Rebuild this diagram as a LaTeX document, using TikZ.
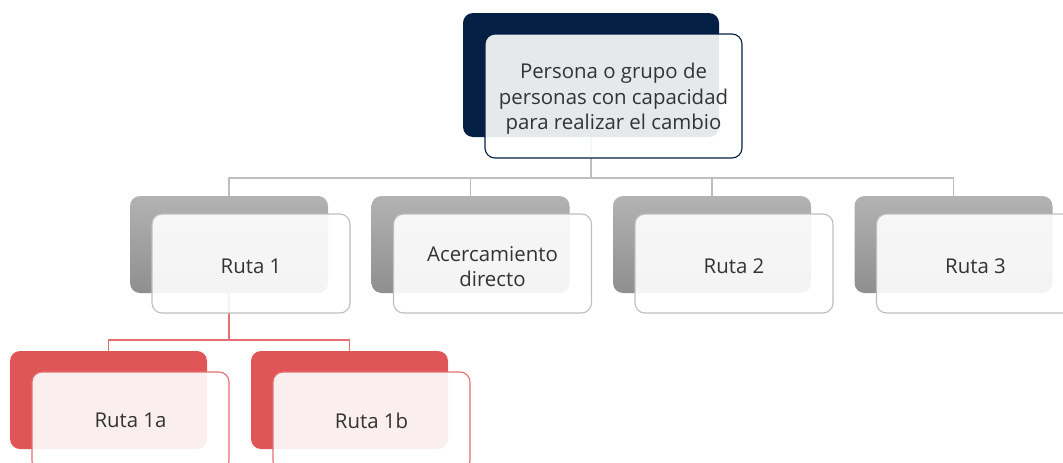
\documentclass[tikz,border=0pt]{standalone}
\usepackage{fontspec}
\setmainfont{Open Sans}
\usetikzlibrary{calc}
\definecolor{navy}{RGB}{3,32,68}
\definecolor{gline}{RGB}{190,190,190}
\definecolor{rfill}{RGB}{224,86,88}
\definecolor{rline}{RGB}{228,110,112}
\definecolor{txt}{RGB}{51,51,51}
\tikzset{
  backbox/.style={rounded corners=10pt, inner sep=0pt, outer sep=0pt},
  frontbox/.style={rounded corners=10pt, inner sep=0pt, outer sep=0pt, fill=white, fill opacity=0.9, line width=1.1pt},
  lbl/.style={text=txt, font=\fontsize{20.4}{25.5}\selectfont, align=center, inner sep=0pt},
  conn/.style={line width=1.2pt},
}
\begin{document}
\begin{tikzpicture}[x=1pt,y=-1pt]
\useasboundingbox (0,0) rectangle (1063,463);
\clip (0,0) rectangle (1063,463);
% back boxes
\node[backbox, fill=navy, minimum width=256pt, minimum height=124pt] (top) at (591,75) {};
\foreach \n/\x in {b1/229, b2/470.5, b3/712, b4/953.5}{
  \node[backbox, minimum width=198pt, minimum height=97pt, top color={rgb,255:red,178;green,178;blue,178}, bottom color={rgb,255:red,143;green,143;blue,143}] (\n) at (\x,244.5) {};
}
\node[backbox, fill=rfill, minimum width=197pt, minimum height=98pt] (c1) at (108.5,400) {};
\node[backbox, fill=rfill, minimum width=197pt, minimum height=98pt] (c2) at (349.5,400) {};
% connectors
\foreach \n in {b1,b2,b3,b4}{
  \draw[conn, gline] (top.south) -- ++(0,41) -| (\n.north);
}
\foreach \n in {c1,c2}{
  \draw[conn, rline] (b1.south) -- ++(0,47) -| (\n.north);
}
% front boxes
\node[frontbox, draw=navy, minimum width=257pt, minimum height=124pt] (topf) at (613.5,96) {};
\foreach \n/\x in {f1/251, f2/492.5, f3/734, f4/975.5}{
  \node[frontbox, draw=gline, minimum width=198pt, minimum height=99pt] (\n) at (\x,263.5) {};
}
\node[frontbox, draw=rline, minimum width=197pt, minimum height=99pt] (g1) at (130.5,421.5) {};
\node[frontbox, draw=rline, minimum width=197pt, minimum height=99pt] (g2) at (371.5,421.5) {};
% labels
\node[lbl] (ttop) at ($(topf.center)+(0,3)$) {Persona o grupo de\\personas con capacidad\\para realizar el cambio};
\node[lbl] (t1) at ($(f1.center)+(0,3)$) {Ruta 1};
\node[lbl] (t2) at ($(f2.center)+(0,3)$) {Acercamiento\\directo};
\node[lbl] (t3) at ($(f3.center)+(0,3)$) {Ruta 2};
\node[lbl] (t4) at ($(f4.center)+(0,3)$) {Ruta 3};
\node[lbl] (t5) at ($(g1.center)+(0,-1)$) {Ruta 1a};
\node[lbl] (t6) at ($(g2.center)+(0,-1)$) {Ruta 1b};
\end{tikzpicture}
\end{document}
